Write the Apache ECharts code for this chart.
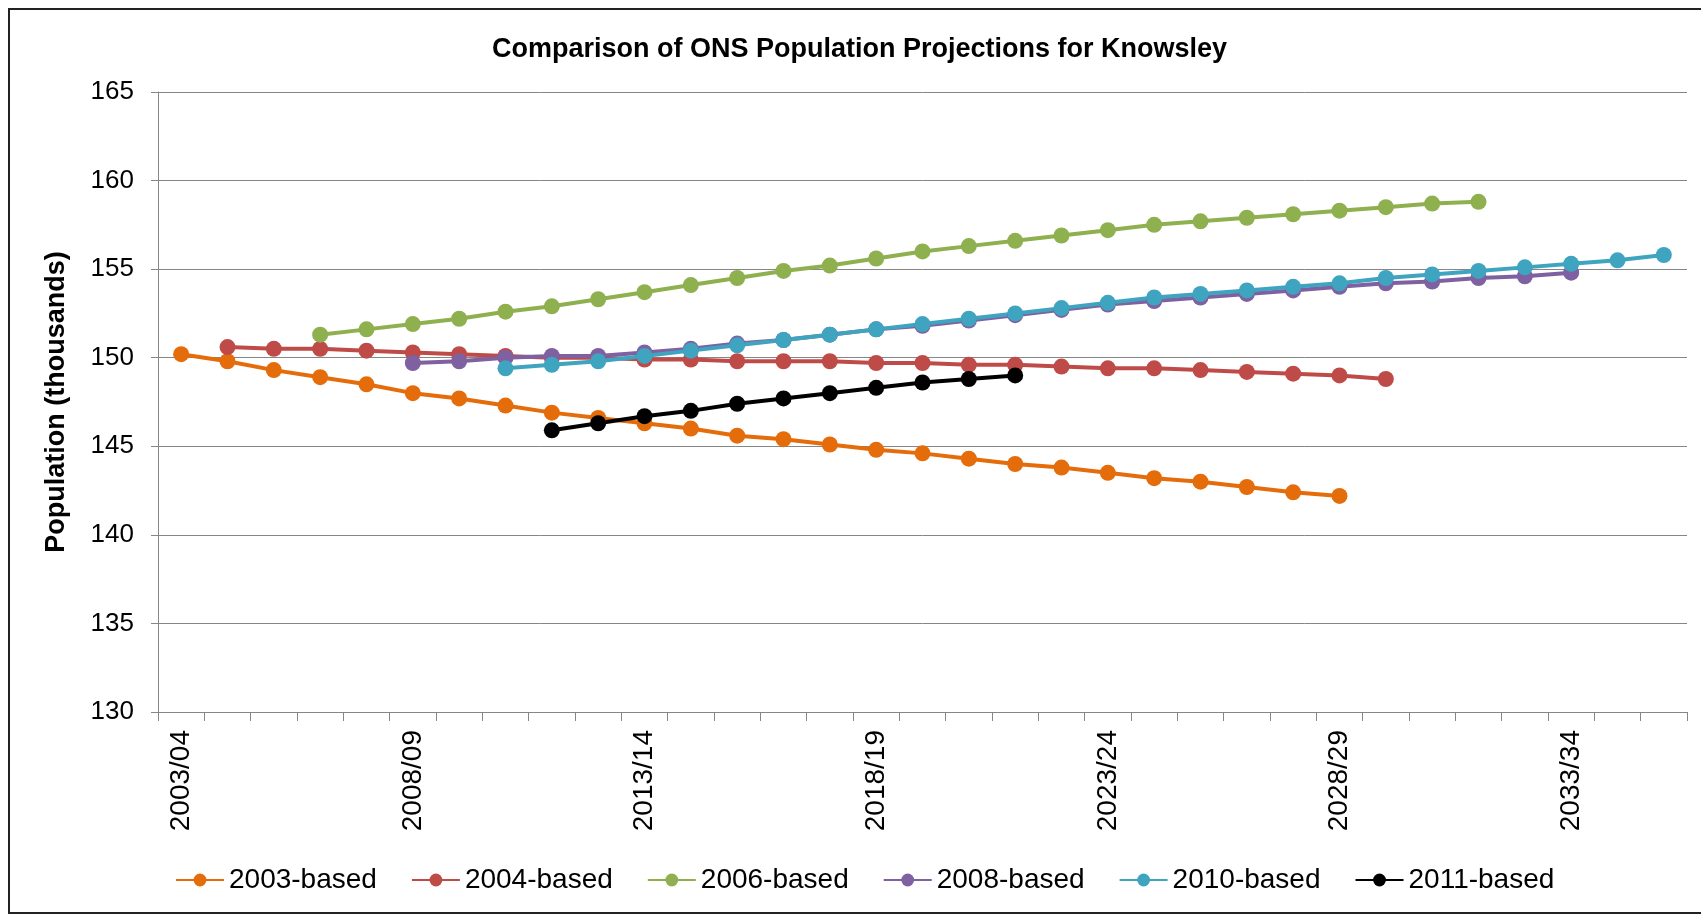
<!DOCTYPE html>
<html>
<head>
<meta charset="utf-8">
<script src="https://cdn.jsdelivr.net/npm/echarts@6/dist/echarts.min.js"></script>
<style>
  html, body { margin: 0; padding: 0; background: #fff; }
  #main { width: 1701px; height: 917px; }
</style>
</head>
<body>
<div id="main"></div>
<script>
// financial years 2003/04 .. 2035/36
var years = ['2003/04','2004/05','2005/06','2006/07','2007/08','2008/09','2009/10','2010/11',
  '2011/12','2012/13','2013/14','2014/15','2015/16','2016/17','2017/18','2018/19','2019/20',
  '2020/21','2021/22','2022/23','2023/24','2024/25','2025/26','2026/27','2027/28','2028/29',
  '2029/30','2030/31','2031/32','2032/33','2033/34','2034/35','2035/36'];

// population in thousands, null where a projection has no value
var based2003 = [150.2, 149.8, 149.3, 148.9, 148.5, 148.0, 147.7, 147.3, 146.9, 146.6, 146.3,
  146.0, 145.6, 145.4, 145.1, 144.8, 144.6, 144.3, 144.0, 143.8, 143.5, 143.2, 143.0, 142.7,
  142.4, 142.2];
var based2004 = [null, 150.6, 150.5, 150.5, 150.4, 150.3, 150.2, 150.1, 150.0, 150.0, 149.9,
  149.9, 149.8, 149.8, 149.8, 149.7, 149.7, 149.6, 149.6, 149.5, 149.4, 149.4, 149.3, 149.2,
  149.1, 149.0, 148.8];
var based2006 = [null, null, null, 151.3, 151.6, 151.9, 152.2, 152.6, 152.9, 153.3, 153.7,
  154.1, 154.5, 154.9, 155.2, 155.6, 156.0, 156.3, 156.6, 156.9, 157.2, 157.5, 157.7, 157.9,
  158.1, 158.3, 158.5, 158.7, 158.8];
var based2008 = [null, null, null, null, null, 149.7, 149.8, 150.0, 150.1, 150.1, 150.3,
  150.5, 150.8, 151.0, 151.3, 151.6, 151.8, 152.1, 152.4, 152.7, 153.0, 153.2, 153.4, 153.6,
  153.8, 154.0, 154.2, 154.3, 154.5, 154.6, 154.8];
var based2010 = [null, null, null, null, null, null, null, 149.4, 149.6, 149.8, 150.1,
  150.4, 150.7, 151.0, 151.3, 151.6, 151.9, 152.2, 152.5, 152.8, 153.1, 153.4, 153.6, 153.8,
  154.0, 154.2, 154.5, 154.7, 154.9, 155.1, 155.3, 155.5, 155.8];
var based2011 = [null, null, null, null, null, null, null, null, 145.9, 146.3, 146.7,
  147.0, 147.4, 147.7, 148.0, 148.3, 148.6, 148.8, 149.0];

var seriesNames = ['2003-based', '2004-based', '2006-based', '2008-based', '2010-based', '2011-based'];
var seriesData = [based2003, based2004, based2006, based2008, based2010, based2011];
var colors = ['#E46C0A', '#BE4B48', '#8EB04F', '#7F60A0', '#3FA4C0', '#000000'];

var font = 'Liberation Sans, Arial, sans-serif';
var chart = echarts.init(document.getElementById('main'));

var series = seriesNames.map(function (name, i) {
  return {
    name: name,
    type: 'line',
    data: seriesData[i],
    symbol: 'circle',
    symbolSize: 16,
    lineStyle: { width: 4, color: colors[i] },
    itemStyle: { color: colors[i] },
    emphasis: { disabled: true },
    animation: false
  };
});

var option = {
  backgroundColor: '#fff',
  color: colors,
  title: {
    text: 'Comparison of ONS Population Projections for Knowsley',
    left: 487,
    top: 31,
    textStyle: { fontFamily: font, fontSize: 27, fontWeight: 'bold', color: '#000' }
  },
  graphic: [{
    type: 'rect',
    shape: { x: 9, y: 9, width: 1700, height: 904 },
    style: { fill: 'none', stroke: '#222', lineWidth: 2 },
    silent: true
  }],
  legend: {
    bottom: 18,
    left: 170,
    itemWidth: 48,
    itemHeight: 16,
    itemGap: 34,
    textStyle: { fontFamily: font, fontSize: 28, color: '#000' },
    data: seriesNames
  },
  grid: { left: 158, right: 14, top: 92, bottom: 205 },
  xAxis: {
    type: 'category',
    data: years,
    boundaryGap: true,
    axisLine: { lineStyle: { color: '#868686', width: 1 } },
    axisTick: { show: true, interval: 0, length: 9, lineStyle: { color: '#868686' } },
    axisLabel: {
      interval: 4,
      rotate: 90,
      margin: 18,
      fontFamily: font,
      fontSize: 28,
      color: '#000'
    },
    splitLine: { show: false }
  },
  yAxis: {
    type: 'value',
    min: 130,
    max: 165,
    interval: 5,
    name: 'Population (thousands)',
    nameLocation: 'middle',
    nameGap: 88,
    nameTextStyle: { fontFamily: font, fontSize: 27, fontWeight: 'bold', color: '#000' },
    axisLine: { show: true, lineStyle: { color: '#868686', width: 1 } },
    axisTick: { show: true, length: 7, lineStyle: { color: '#868686' } },
    axisLabel: { margin: 24, fontFamily: font, fontSize: 26, color: '#000' },
    splitLine: { lineStyle: { color: '#868686', width: 1 } }
  },
  series: series
};

chart.setOption(option);
</script>
</body>
</html>
